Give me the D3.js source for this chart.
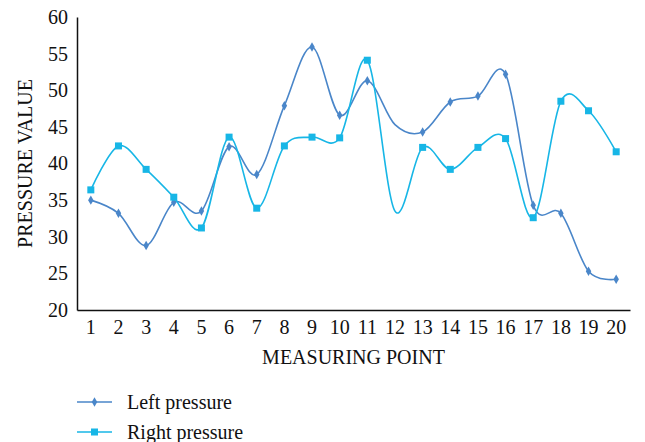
<!DOCTYPE html>
<html>
<head>
<meta charset="utf-8">
<script src="https://cdn.jsdelivr.net/npm/d3@7"></script>
<style>
  html, body { margin: 0; padding: 0; background: #fff; }
  svg text { font-family: "Liberation Serif", "DejaVu Serif", serif; fill: #111; }
</style>
</head>
<body>
<svg id="chart" width="645" height="442"></svg>
<script>
// Measuring points along the x axis
const points = d3.range(1, 21);
// Pressure readings per measuring point
const leftPressure  = [35.0, 33.2, 28.8, 34.7, 33.5, 42.3, 38.5, 47.9, 55.9, 46.6,
                       51.3, 45.3, 44.3, 48.4, 49.2, 52.2, 34.3, 33.2, 25.3, 24.2];
const rightPressure = [36.4, 42.4, 39.2, 35.4, 31.2, 43.6, 33.9, 42.4, 43.6, 43.5,
                       54.1, 33.5, 42.2, 39.2, 42.2, 43.4, 32.6, 48.5, 47.2, 41.6];
// Points whose markers are not drawn
const unmarked = [12];
const yTicks = [20, 25, 30, 35, 40, 45, 50, 55, 60];
const seriesNames = ["Left pressure", "Right pressure"];
const seriesColors = ["#4a86c9", "#17b6e6"];

const svg = d3.select("#chart");
const margin = { left: 77, right: 15, top: 17, bottom: 132 };
const W = 645, H = 442;

const x = d3.scaleBand().domain(points).range([margin.left, W - margin.right]);
const y = d3.scaleLinear().domain([20, 60]).range([H - margin.bottom, margin.top]);
const cx = d => x(d) + x.bandwidth() / 2;

// Axes
const xAxis = svg.append("g")
  .attr("transform", `translate(0,${y(20)})`)
  .call(d3.axisBottom(x).tickSize(0).tickPadding(10));
const yAxis = svg.append("g")
  .attr("transform", `translate(${margin.left},0)`)
  .call(d3.axisLeft(y).tickValues(yTicks).tickSize(0).tickPadding(9));
[xAxis, yAxis].forEach(g => {
  g.select(".domain").attr("stroke", "#111").attr("stroke-width", 1.5);
  g.selectAll("text").attr("font-size", 20).attr("fill", "#111")
    .style("font-family", '"Liberation Serif", serif');
});
yAxis.selectAll("text").attr("dy", "0.32em");

// Axis titles
svg.append("text")
  .attr("x", (margin.left + W - margin.right) / 2).attr("y", 364)
  .attr("text-anchor", "middle").attr("font-size", 20)
  .text("MEASURING POINT");
svg.append("text")
  .attr("transform", `translate(32,${(y(20) + y(60)) / 2}) rotate(-90)`)
  .attr("text-anchor", "middle").attr("font-size", 20)
  .text("PRESSURE VALUE");

const line = d3.line()
  .x((d, i) => cx(points[i]))
  .y(d => y(d))
  .curve(d3.curveCardinal.tension(0));

const series = [leftPressure, rightPressure];
series.forEach((vals, s) => {
  const g = svg.append("g");
  g.append("path").datum(vals)
    .attr("d", line).attr("fill", "none")
    .attr("stroke", seriesColors[s]).attr("stroke-width", 1.6);
  const marked = vals.map((v, i) => ({ p: points[i], v })).filter(d => !unmarked.includes(d.p));
  if (s === 0) {
    g.selectAll("path.m").data(marked).enter().append("path")
      .attr("class", "m")
      .attr("d", d3.symbol(d3.symbolDiamond, 26))
      .attr("transform", d => `translate(${cx(d.p)},${y(d.v)})`)
      .attr("fill", seriesColors[s]);
  } else {
    g.selectAll("rect").data(marked).enter().append("rect")
      .attr("x", d => cx(d.p) - 3.5).attr("y", d => y(d.v) - 3.5)
      .attr("width", 7).attr("height", 7)
      .attr("fill", seriesColors[s]);
  }
});

// Legend
const legend = svg.append("g");
seriesNames.forEach((name, s) => {
  const ly = 402 + s * 30;
  legend.append("line")
    .attr("x1", 77).attr("x2", 112).attr("y1", ly).attr("y2", ly)
    .attr("stroke", seriesColors[s]).attr("stroke-width", 1.6);
  if (s === 0) {
    legend.append("path").attr("d", d3.symbol(d3.symbolDiamond, 26))
      .attr("transform", `translate(94.5,${ly})`).attr("fill", seriesColors[s]);
  } else {
    legend.append("rect").attr("x", 91).attr("y", ly - 3.5)
      .attr("width", 7).attr("height", 7).attr("fill", seriesColors[s]);
  }
  legend.append("text").attr("x", 127).attr("y", ly).attr("dy", "0.35em")
    .attr("font-size", 20).text(name);
});
</script>
</body>
</html>
